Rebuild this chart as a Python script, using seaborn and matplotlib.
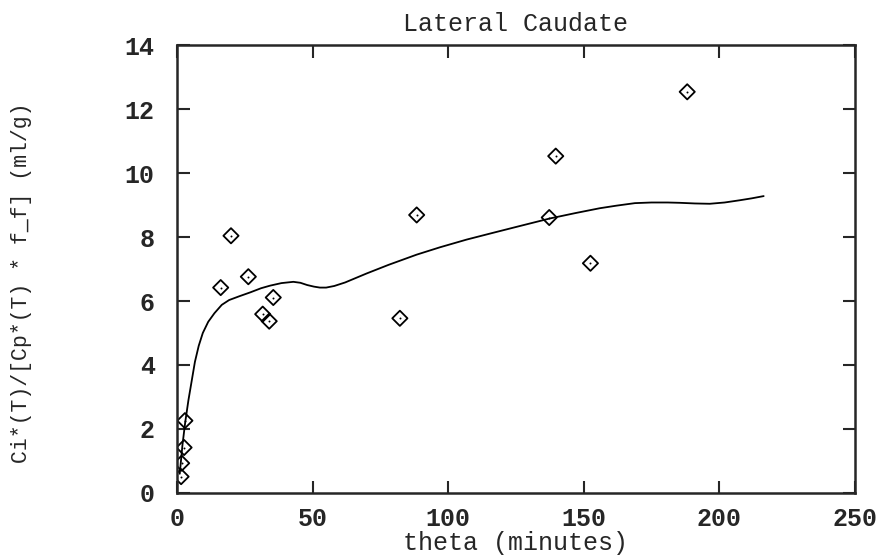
import numpy as np
import pandas as pd
import seaborn as sns
import matplotlib
matplotlib.use("Agg")
import matplotlib.pyplot as plt

# measured points (theta in minutes, ratio in ml/g)
theta_pts = [1.5, 1.7, 2.6, 2.9, 16.1, 19.9, 26.3, 31.6, 34.0, 35.5,
             82.2, 88.4, 137.3, 139.7, 152.5, 188.2]
ratio_pts = [0.51, 0.93, 1.42, 2.26, 6.42, 8.04, 6.76, 5.59, 5.37, 6.11,
             5.46, 8.69, 8.61, 10.53, 7.18, 12.54]

# fitted curve
theta_fit = [1.0, 2.0, 3.0, 4.2, 5.4, 6.6, 8.0, 9.5, 11.5, 13.8, 16.5, 19.2,
             23.0, 27.0, 31.0, 34.3, 38.5, 42.9, 45.5, 48.0, 50.5, 52.7, 55.0,
             58.0, 62.0, 69.9, 78.0, 88.4, 97.0, 106.8, 116.0, 125.3, 137.5,
             147.0, 155.9, 162.0, 168.9, 175.0, 181.0, 185.5, 191.0, 196.5,
             202.0, 207.6, 212.0, 216.4]
ratio_fit = [0.6, 1.5, 2.2, 2.9, 3.5, 4.1, 4.6, 5.0, 5.35, 5.62, 5.88, 6.03,
             6.15, 6.27, 6.4, 6.48, 6.56, 6.6, 6.57, 6.5, 6.45, 6.42, 6.42,
             6.47, 6.58, 6.86, 7.13, 7.45, 7.68, 7.92, 8.12, 8.32, 8.58,
             8.75, 8.9, 8.98, 9.06, 9.08, 9.08, 9.07, 9.05, 9.04,
             9.08, 9.15, 9.21, 9.28]

pts = pd.DataFrame({'theta': theta_pts, 'ratio': ratio_pts})
fit = pd.DataFrame({'theta': theta_fit, 'ratio': ratio_fit})

sns.set_style("ticks")
plt.rcParams['font.family'] = ['Liberation Mono', 'DejaVu Sans Mono']

fig = plt.figure(figsize=(8.83, 5.57), dpi=100)
ax = fig.add_axes([0.2005, 0.115, 0.7675, 0.804])

sns.lineplot(data=fit, x='theta', y='ratio', color='black', linewidth=1.3,
             sort=False, ax=ax)
sns.scatterplot(data=pts, x='theta', y='ratio', marker='D', s=60,
                facecolor='none', edgecolor='black', linewidth=1.3, ax=ax)
sns.scatterplot(data=pts, x='theta', y='ratio', marker='o', s=2,
                color='black', linewidth=0, ax=ax)

ax.set_xlim(0, 250)
ax.set_ylim(0, 14)
ax.set_xticks([0, 50, 100, 150, 200, 250])
ax.set_yticks([0, 2, 4, 6, 8, 10, 12, 14])
ax.tick_params(direction='in', length=9, width=1.5, top=True, right=True,
               labelsize=18)
ax.tick_params(axis='x', pad=10)
ax.tick_params(axis='y', pad=16)
for lab in ax.get_xticklabels() + ax.get_yticklabels():
    lab.set_fontweight('bold')
for sp in ax.spines.values():
    sp.set_linewidth(1.8)
    sp.set_visible(True)

ax.set_title('Lateral Caudate', fontsize=18, pad=10)
ax.set_xlabel('theta (minutes)', fontsize=18, labelpad=0)
ax.set_ylabel('Ci*(T)/[Cp*(T) * f_f] (ml/g)', fontsize=15.5)
ax.yaxis.set_label_coords(-0.214, 0.47)

fig.savefig('out.png', dpi=100)
